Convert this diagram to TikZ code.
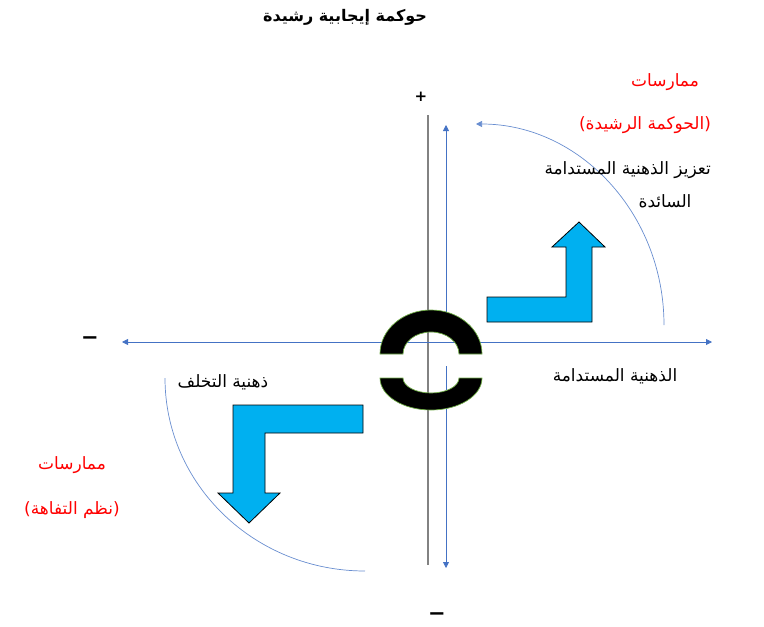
\documentclass[tikz,border=0pt]{standalone}
\usepackage{fontspec}
\usepackage{xcolor}
\usetikzlibrary{arrows.meta}
\TeXXeTstate=1
\newfontfamily\arabicfont[Script=Arabic]{DejaVu Sans}
\newfontfamily\signfont{DejaVu Sans}
\definecolor{axisblue}{RGB}{68,114,196}
\definecolor{axisgray}{RGB}{130,130,130}
\definecolor{bentcyan}{RGB}{0,176,240}
\definecolor{ringgreen}{RGB}{112,173,71}
\begin{document}
\begin{tikzpicture}[x=1pt, y=-1pt,
      txt/.style={font=\arabicfont\fontsize{17}{19}\selectfont, inner sep=0pt},
      redtxt/.style={txt, text=red},
      sign/.style={font=\signfont\bfseries\fontsize{15}{15}\selectfont, inner sep=0pt},
      minus/.style={font=\signfont\bfseries\fontsize{21}{21}\selectfont, inner sep=0pt},
      axis/.style={{Triangle[length=6pt,width=6pt]}-{Triangle[length=6pt,width=6pt]}, color=axisblue, line width=0.8pt},
      half/.style={-{Triangle[length=6pt,width=6pt]}, color=axisblue, line width=0.8pt},
      sweep/.style={color=axisblue!80, line width=0.7pt},
      bent/.style={draw=black, fill=bentcyan, line width=0.8pt, line join=miter},
      ring/.style={fill=black, draw=ringgreen, line width=0.7pt}
  ]
    \useasboundingbox (0,0) rectangle (764,627);
    % title
    \node[txt, font=\arabicfont\bfseries\fontsize{16}{18}\selectfont] (title) at (345,17) {\beginR حوكمة إيجابية رشيدة\endR};
    % axes
    \coordinate (vtop) at (428,115);
    \coordinate (vbot) at (428,565);
    \coordinate (hl) at (122,342);
    \coordinate (hr) at (712,342);
    \coordinate (upfrom) at (446,312);
    \coordinate (upto) at (446,125);
    \coordinate (dnfrom) at (446,366);
    \coordinate (dnto) at (446,568);
    \draw[color=axisgray, line width=1.6pt] (vtop) -- (vbot);
    \draw[axis] (hl) -- (hr);
    \draw[half] (upfrom) -- (upto);
    \draw[half] (dnfrom) -- (dnto);
    \node[sign] (plus) at (421,97) {+};
    \node[minus] (minusl) at (90,341) {−};
    \node[minus] (minusb) at (437,617) {−};
    % quarter sweeps
    \coordinate (swa) at (664,325);
    \coordinate (swb) at (165,378);
    \draw[sweep, -{Triangle[length=6pt,width=6pt]}] (swa) arc[start angle=0, end angle=-90, x radius=188, y radius=201];
    \draw[sweep] (swb) arc[start angle=180, end angle=90, x radius=200, y radius=193];
    % split ring
    \path[ring] (380,354) arc[start angle=180, end angle=360, x radius=51, y radius=44]
      -- (459,354) arc[start angle=360, end angle=180, x radius=28, y radius=22] -- cycle;
    \path[ring] (380,378) arc[start angle=180, end angle=0, x radius=51, y radius=32]
      -- (459,378) arc[start angle=0, end angle=180, x radius=28, y radius=15] -- cycle;
    % bent arrows
    \path[bent] (487,297) -- (566,297) -- (566,247) -- (552,247) -- (579,222) -- (605,247)
      -- (592,247) -- (592,322) -- (487,322) -- cycle;
    \path[bent] (363,405) -- (233,405) -- (233,493) -- (218,493) -- (249,523) -- (280,493)
      -- (265,493) -- (265,433) -- (363,433) -- cycle;
    % labels
    \node[redtxt] (pracup) at (665,82) {\beginR ممارسات\endR};
    \node[redtxt] (goodgov) at (645,125) {\beginR (الحوكمة الرشيدة)\endR};
    \node[txt, anchor=east] (boost) at (711,170) {\beginR تعزيز الذهنية المستدامة\endR};
    \node[txt] (prevail) at (665,201) {\beginR السائدة\endR};
    \node[txt] (sustain) at (615,376) {\beginR الذهنية المستدامة\endR};
    \node[txt] (lag) at (223,382) {\beginR ذهنية التخلف\endR};
    \node[redtxt] (praclow) at (72,465) {\beginR ممارسات\endR};
    \node[redtxt] (triv) at (72,510) {\beginR (نظم التفاهة)\endR};
\end{tikzpicture}
\end{document}
